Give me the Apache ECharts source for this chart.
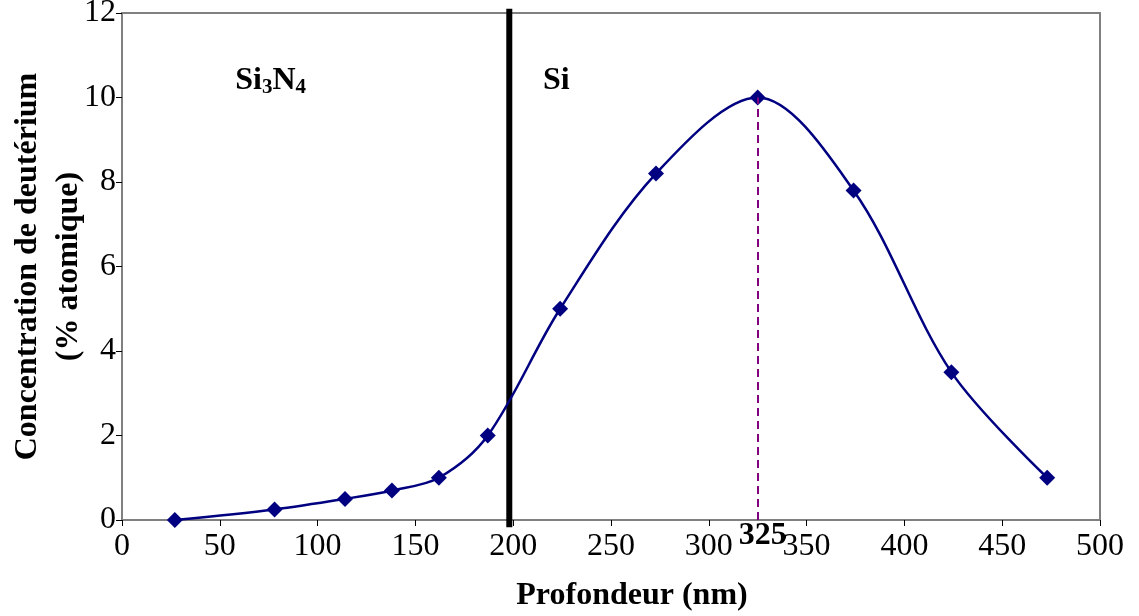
<!DOCTYPE html>
<html><head><meta charset="utf-8">
<script src="https://cdn.jsdelivr.net/npm/echarts@6/dist/echarts.min.js"></script>
<style>html,body{margin:0;padding:0;background:#fff}#c{width:1139px;height:616px}</style>
</head><body><div id="c"></div>
<script>
const depth = [27, 78, 114, 138, 162, 187, 224, 273, 325, 374, 424, 473];
const conc = [0, 0.25, 0.5, 0.7, 1.0, 2.0, 5.0, 8.2, 10.0, 7.8, 3.5, 1.0];
const interfaceX = 198;
const interfaceY = [-0.17, 12.1];
const peakX = 325;
const peakY = 10;
const xTicks = [0, 50, 100, 150, 200, 250, 300, 350, 400, 450, 500];
const yTicks = [0, 2, 4, 6, 8, 10, 12];
const layerLabels = [
  { x: 76, y: 10.4, text: '{b|Si}{s|3}{b|N}{s|4}' },
  { x: 222, y: 10.4, text: 'Si' }
];

const F = '"Liberation Serif","Times New Roman",serif';
const FS = 32;
const chart = echarts.init(document.getElementById('c'));
chart.setOption({
  animation: false,
  backgroundColor: '#fff',
  grid: { left: 122, right: 39, top: 13, bottom: 96, show: true, borderColor: '#808080', borderWidth: 2,
          containLabel: false, outerBoundsMode: 'none' },
  xAxis: {
    type: 'value', min: xTicks[0], max: xTicks[xTicks.length-1], interval: 50,
    name: 'Profondeur (nm)', nameLocation: 'middle', nameGap: 60,
    nameTextStyle: { fontFamily: F, fontWeight: 'bold', fontSize: FS, color: '#000', padding: [0,0,0,42] },
    axisLine: { lineStyle: { color: '#808080', width: 2 } },
    axisTick: { show: true, inside: false, length: 6, lineStyle: { color: '#000', width: 1 } },
    axisLabel: { fontFamily: F, fontSize: FS, color: '#000', margin: 11 },
    splitLine: { show: false }
  },
  yAxis: {
    type: 'value', min: yTicks[0], max: yTicks[yTicks.length-1], interval: 2,
    name: 'Concentration de deutérium\n(% atomique)', nameLocation: 'middle', nameGap: 33,
    nameMoveOverlap: false,
    nameTextStyle: { fontFamily: F, fontWeight: 'bold', fontSize: FS, color: '#000', lineHeight: 41 },
    axisLine: { lineStyle: { color: '#808080', width: 2 } },
    axisTick: { show: true, inside: false, length: 6, lineStyle: { color: '#000', width: 1 } },
    axisLabel: { fontFamily: F, fontSize: FS, color: '#000', margin: 6 },
    splitLine: { show: false }
  },
  series: [{
    type: 'line',
    data: interfaceY.map(y => [interfaceX, y]),
    symbol: 'none', clip: false, silent: true,
    lineStyle: { color: '#000', width: 6 }
  }, {
    type: 'line',
    data: depth.map((d, i) => [d, conc[i]]),
    smooth: 0.33,
    symbol: 'diamond', symbolSize: 16,
    itemStyle: { color: '#000080' },
    lineStyle: { color: '#000080', width: 2.5 },
    clip: false,
    z: 3,
    markLine: {
      silent: true, symbol: 'none', animation: false,
      data: [
        [{ coord: [peakX, 0], lineStyle: { color: '#800080', width: 2, type: [8, 5] },
           label: { show: true, position: 'start', formatter: String(peakX), fontFamily: F, fontWeight: 'bold', fontSize: FS, color: '#000', distance: 0, padding: [0,0,0,10] } },
         { coord: [peakX, peakY] }]
      ]
    },
    markPoint: {
      silent: true, symbol: 'rect', symbolSize: 1, itemStyle: { color: 'transparent' },
      label: { show: true, fontFamily: F, fontWeight: 'bold', fontSize: FS, color: '#000',
        rich: { b: { fontFamily: F, fontWeight: 'bold', fontSize: FS }, s: { fontFamily: F, fontWeight: 'bold', fontSize: 21, padding: [14,0,0,0] } } },
      data: layerLabels.map(l => ({ coord: [l.x, l.y], label: { formatter: l.text } }))
    }
  }]
});
</script></body></html>
